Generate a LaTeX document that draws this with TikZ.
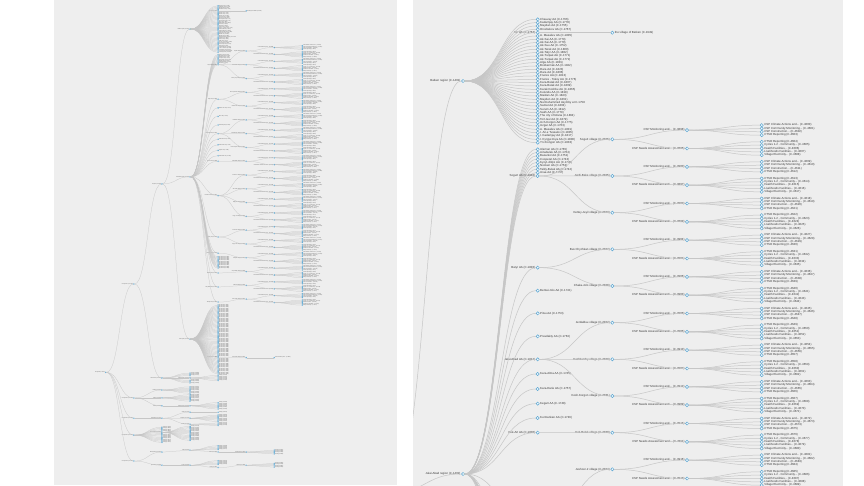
\documentclass[tikz,border=0pt]{standalone}
\usepackage{fontspec}
\setmainfont{Liberation Sans}
\usetikzlibrary{calc}

\definecolor{panelbg}{HTML}{EEEEEE}
\definecolor{linkgray}{HTML}{C6C6C6}
\definecolor{nodeblue}{HTML}{5AA6D2}
\definecolor{nodefill}{HTML}{F4F9FC}
\definecolor{txtgray}{HTML}{3A3A3A}

\tikzset{
tn/.style={circle, draw=nodeblue, fill=nodefill, line width=0.5pt, inner sep=0pt, minimum size=3.2pt},
lbl/.style={font=\fontsize{2.9}{3.4}\selectfont, text=txtgray, inner sep=0.5pt},
leaf/.style={tn, label={[lbl]0:{#1}}},
branch/.style={tn, label={[lbl]180:{#1}}},
link/.style={draw=linkgray, line width=0.5pt},
}

% horizontal tree link between two named nodes
\newcommand\lnk[2]{\draw[link] (#1) .. controls ($(#1)!0.5!(#1 -| #2)$) and ($(#2)!0.5!(#2 -| #1)$) .. (#2);}

% a run of leaves under one parent
\newcommand\leafgroup[6]{%
\foreach \j in {1,...,#6}{%
\pgfmathsetmacro\yy{#5+3.333*(\j-1)}%
\pgfmathtruncatemacro\cnum{5000+mod(#5*7+\j*13,900)}%
\node[leaf={Activity (C-\cnum)}] (#1#3\j) at (#4,\yy) {};
\lnk{#1#2}{#1#3\j}}}

% the whole tree, x = level, y = rows (pt); #1 = name prefix
\newcommand\treecontent[1]{%
% upper levels
\node[branch={All regions (C-1000)}] (#1root) at (0,994) {};
\node[branch={Component 1 (C-1101)}] (#1ca) at (1,759) {};
\node[branch={Component 2 (C-1102)}] (#1cb) at (1,1062) {};
\node[branch={Component 3 (C-1103)}] (#1cc) at (1,1116) {};
\node[branch={Component 4 (C-1104)}] (#1cd) at (1,1161) {};
\node[branch={Component 5 (C-1105)}] (#1ce) at (1,1230) {};
\node[branch={Regions (C-1300)}] (#1reg) at (2,493) {};
\node[branch={Other areas (C-1301)}] (#1oth) at (2,1009) {};
\node[branch={Batken region (C-1401)}] (#1bat) at (3,81) {};
\node[branch={Jalal-Abad region (C-1402)}] (#1jal) at (3,474) {};
\node[branch={Osh region (C-1403)}] (#1osh) at (3,905.5) {};
\foreach \nd in {ca,cb,cc,cd,ce} {\lnk{#1root}{#1\nd}}
\lnk{#1ca}{#1reg} \lnk{#1ca}{#1oth}
\foreach \nd in {bat,jal,osh} {\lnk{#1reg}{#1\nd}}
%
% Batken aiyl aimaks
\foreach \i/\nm in {0/{Chauvay AA (C-1766)},1/{Kadamjay AA (C-1778)},2/{Maydan AA (C-1755)},
3/{Orozbekov AA (C-1767)},5/{A. Masaliev AA (C-1805)},6/{Ak-Sai AA (C-1779)},7/{Ak-Sai AA (C-1770)},
8/{Ak-Suu AA (C-1752)},9/{Ak-Terek AA (C-1800)},10/{Ak-Tatyr AA (C-1802)},11/{Ak-Turpak AA (C-1771)},
12/{Ak-Turpak AA (C-1772)},13/{Alga AA (C-1801)},14/{Bozbarmak AA (C-1822)},15/{Dara AA (C-1823)},
16/{Dara AA (C-1806)},17/{Frunze AA (C-1813)},18/{Frunze - Tokoy AA (C-1776)},19/{Kara-Bulak AA (C-1807)},
20/{Kara-Bulak AA (C-1809)},21/{Karak Koshbu AA (C-1865)},22/{Kulundu AA (C-1818)},23/{Maidan AA (C-1843)},
24/{Mayden AA (C-1861)},25/{Nurmuhammed Asymby at C-1758},26/{Samat AA (C-1804)},27/{Surum AA (C-1812)},
28/{Sakh AA (C-1779)},29/{The city of Isfana (C-1864)},30/{Tort-Gul AA (C-1879)},31/{Uch-Korgon AA (C-1775)},
32/{Uzgar AA (C-1763)},33/{A. Masaliev AA (C-1801)},34/{I. Ail-e Tussalov (C-1805)},35/{I. Kadamjay AA (C-1817)},
36/{I. Kyrgyz-Kiya AA (C-1808)},37/{Yni Kongon AA (C-1833)}}
{\node[leaf=\nm] (#1ba\i) at (4,{19.33+3.333*\i}) {};}
\node[branch={Tor AA (C-1784)}] (#1ba4) at (4,32.67) {};
\node[leaf={the village of Batken (C-1949)}] (#1tv) at (5,32.67) {};
\foreach \i in {0,...,37} {\lnk{#1bat}{#1ba\i}}
\lnk{#1ba4}{#1tv}
%
% Jalal-Abad aiyl aimaks
\foreach \i/\nm in {0/{Uleman AA (C-1765)},1/{Ainabulak AA (C-1764)},2/{Bazarkol AA (C-1751)},
3/{Cooperat AA (C-1743)},4/{Kyzyl-Jildyz AA (C-1749)},5/{Nooken AA (C-1753)},
6/{Taldy-Bulak AA (C-1742)},7/{Uraa AA (C-1757)}}
{\node[leaf=\nm] (#1ja\i) at (4,{149.33+3.333*\i}) {};
\lnk{#1jal}{#1ja\i}}
\node[branch={Sogurt AA (C-1810)}] (#1sog) at (4,176) {};
\node[branch={Batyr AA (C-1803)}] (#1batyr) at (4,267.67) {};
\node[leaf={Bental-Jolo AA (C-1741)}] (#1bjo) at (4,290.67) {};
\node[leaf={Pitsu AA (C-1753)}] (#1pit) at (4,313.33) {};
\node[leaf={Pravdakty AA (C-1763)}] (#1prv) at (4,336.33) {};
\node[branch={Jalal-Abad AA (C-1812)}] (#1jaa) at (4,359.33) {};
\node[leaf={Kara-Alma AA (C-1745)}] (#1kal) at (4,374) {};
\node[leaf={Kara-Darie AA (C-1757)}] (#1kdr) at (4,389) {};
\node[leaf={Kegart AA (C-1748)}] (#1keg) at (4,403.67) {};
\node[leaf={Kurmankan AA (C-1746)}] (#1kur) at (4,418) {};
\node[branch={Kok-Art AA (C-1808)}] (#1kok) at (4,432.67) {};
\node[branch={Kochkor-Ata AA (C-1811)}] (#1ka) at (4,524) {};
\node[branch={Massy AA (C-1814)}] (#1kb) at (4,634) {};
\node[branch={Nazarov AA (C-1815)}] (#1kc) at (4,677) {};
\node[branch={Oktyabr AA (C-1816)}] (#1kd) at (4,730) {};
\node[branch={Sary-Bulak AA (C-1819)}] (#1ke) at (4,767) {};
\node[branch={Toktogul AA (C-1820)}] (#1kf) at (4,807) {};
\foreach \nd in {sog,batyr,bjo,pit,prv,jaa,kal,kdr,keg,kur,kok,ka,kb,kc,kd,ke,kf} {\lnk{#1jal}{#1\nd}}
\foreach \i in {0,...,9}{%
\pgfmathtruncatemacro\cnum{1830+\i}%
\node[leaf={Aiyl okmotu (C-\cnum)}] (#1jl\i) at (4,{686.67+3.333*\i}) {};
\lnk{#1jal}{#1jl\i}}
%
% villages, CSP steps and their reports
\foreach \vi/\nm/\vp in {0/{Sogurt village (C-2026)}/sog,1/{Jerdi-Bake village (C-2025)}/sog,
2/{Kettey-Jeyil village (C-2023)}/sog,3/{Bus Chychkan village (C-2027)}/batyr,
4/{Chaka-Jolo village (C-2028)}/batyr,5/{Jerdalduu village (C-2022)}/jaa,
6/{Kashkarchy village (C-2029)}/jaa,7/{Kosh-Korgon village (C-2031)}/jaa,
8/{Kok-Bulak village (C-2030)}/kok,9/{Jeshoor-2 village (C-2024)}/ka,
10/{Ak-Terek village (C-2032)}/ka,11/{Bakyyan village (C-2033)}/ka,12/{Jangy-Jol village (C-2034)}/ka,
13/{Kara-Suu village (C-2035)}/kb,14/{Kyzyl-Tuu village (C-2036)}/kb,15/{Oktyabr village (C-2037)}/kc,
16/{Sary-Bulak village (C-2038)}/kd,17/{Toktogul village (C-2039)}/ke,18/{Uch-Terek village (C-2040)}/kf}
{%
\pgfmathsetmacro\vy{139.33+36.667*\vi}%
\pgfmathtruncatemacro\cm{3898+2*\vi}%
\pgfmathtruncatemacro\cn{3895+2*\vi}%
\node[branch=\nm] (#1v\vi) at (5,\vy) {};
\node[branch={CSP Monitoring and... (C-\cm)}] (#1m\vi) at (6,{\vy-9.167}) {};
\node[branch={CSP Needs Assessment and... (C-\cn)}] (#1n\vi) at (6,{\vy+9.167}) {};
\lnk{#1\vp}{#1v\vi} \lnk{#1v\vi}{#1m\vi} \lnk{#1v\vi}{#1n\vi}
\foreach \k/\lt in {0/{CSP Climate Actions and...},1/{CSP Community Monitoring...},
2/{CSP Construction...},3/{CTSO Reporting}}{%
\pgfmathtruncatemacro\cnum{4600+9*\vi+\k}%
\node[leaf={\lt\ (C-\cnum)}] (#1ml\vi x\k) at (7,{\vy-14.167+3.333*\k}) {};
\lnk{#1m\vi}{#1ml\vi x\k}}
\foreach \k/\lt in {0/{CTSO Reporting},1/{Cycles 1-2 - Community...},2/{Health Facilities...},
3/{Livelihoods Facilities...},4/{Village Electricity...}}{%
\pgfmathtruncatemacro\cnum{4604+9*\vi+\k}%
\node[leaf={\lt\ (C-\cnum)}] (#1nl\vi x\k) at (7,{\vy+2.5+3.333*\k}) {};
\lnk{#1n\vi}{#1nl\vi x\k}}
}
%
% Osh aiyl aimaks
\foreach \i in {0,...,55}{%
\pgfmathtruncatemacro\cnum{1851+\i}%
\ifnum\i=42\relax
\node[branch={Nookat AA (C-\cnum)}] (#1os\i) at (4,{815+3.333*\i}) {};
\else
\node[leaf={Aiyl aimak (C-\cnum)}] (#1os\i) at (4,{815+3.333*\i}) {};
\fi
\lnk{#1osh}{#1os\i}}
\node[branch={Kara-Tash village (C-2050)}] (#1kt) at (5,955) {};
\node[leaf={CSP Monitoring and... (C-3990)}] (#1ktm) at (6,955) {};
\lnk{#1os42}{#1kt} \lnk{#1kt}{#1ktm}
%
% other areas
\node[branch={Pilot projects (C-1501)}] (#1c3) at (3,1009) {};
\lnk{#1oth}{#1c3}
\leafgroup{#1}{oth}{ob}{3}{996}{3}
\leafgroup{#1}{oth}{oc}{3}{1015.33}{3}
\leafgroup{#1}{c3}{od}{4}{1002.33}{5}
%
% component 2
\node[branch={Training (C-1601)}] (#1d1) at (2,1041) {};
\node[branch={Grants (C-1602)}] (#1d2) at (2,1062) {};
\node[branch={Works (C-1603)}] (#1d3) at (2,1083) {};
\node[branch={Works group (C-1604)}] (#1e3) at (3,1083) {};
\foreach \nd in {d1,d2,d3} {\lnk{#1cb}{#1\nd}}
\lnk{#1d3}{#1e3}
\leafgroup{#1}{d1}{pa}{3}{1032.67}{6}
\leafgroup{#1}{d2}{pb}{3}{1053.67}{6}
\leafgroup{#1}{e3}{pc}{4}{1074.67}{6}
%
% component 3
\node[branch={Monitoring (C-1701)}] (#1d4) at (2,1116) {};
\node[branch={Visits (C-1702)}] (#1e4) at (3,1100) {};
\node[branch={Reports (C-1703)}] (#1e5) at (3,1116) {};
\node[branch={Audits (C-1704)}] (#1e6) at (3,1132) {};
\lnk{#1cc}{#1d4}
\foreach \nd in {e4,e5,e6} {\lnk{#1d4}{#1\nd}}
\leafgroup{#1}{e4}{qa}{4}{1100}{1}
\leafgroup{#1}{e5}{qb}{4}{1107.67}{6}
\leafgroup{#1}{e6}{qc}{4}{1128.67}{3}
%
% component 4
\node[branch={Procurement (C-1801)}] (#1d5) at (2,1153.33) {};
\lnk{#1cd}{#1d5}
\leafgroup{#1}{cd}{ra}{2}{1140}{4}
\leafgroup{#1}{cd}{rb}{2}{1156.67}{8}
\leafgroup{#1}{d5}{rc}{3}{1138}{12}
%
% component 5
\node[branch={Management (C-1901)}] (#1d6) at (2,1206) {};
\node[branch={Staff (C-1902)}] (#1e7) at (3,1201) {};
\node[branch={Offices (C-1903)}] (#1f1) at (4,1206) {};
\node[branch={Equipment (C-1904)}] (#1g1) at (5,1206) {};
\node[branch={Operations (C-1905)}] (#1d7) at (2,1241) {};
\node[branch={Costs (C-1906)}] (#1e8) at (3,1241) {};
\node[branch={Travel (C-1907)}] (#1f2) at (4,1247) {};
\node[branch={Vehicles (C-1908)}] (#1g2) at (5,1241) {};
\lnk{#1ce}{#1d6} \lnk{#1d6}{#1e7} \lnk{#1e7}{#1f1} \lnk{#1f1}{#1g1}
\lnk{#1ce}{#1d7} \lnk{#1d7}{#1e8} \lnk{#1e8}{#1f2} \lnk{#1f2}{#1g2}
\leafgroup{#1}{e7}{sa}{4}{1189.33}{4}
\leafgroup{#1}{g1}{sb}{6}{1201}{4}
\leafgroup{#1}{e8}{ta}{4}{1229}{4}
\leafgroup{#1}{g2}{tb}{6}{1236}{4}
}

\begin{document}
\begin{tikzpicture}[x=1pt, y=1pt]
\useasboundingbox (0,0) rectangle (864,-486);
\fill[white] (0,0) rectangle (864,-486);

% panels
\fill[panelbg] (54,0) rectangle (397,-485);
\fill[panelbg] (413,0) rectangle (843,-486);

% overview of the whole tree
\begin{scope}
\clip (54,0) rectangle (397,-485);
\begin{scope}[x={(74.67pt,0pt)}, y={(0pt,-1pt)}, shift={(105.8pt,1.41pt)}, scale=0.376, transform shape,
tn/.append style={line width=0.25pt}, link/.append style={line width=0.25pt}]
\treecontent{L}
\end{scope}
\end{scope}

% zoomed view
\begin{scope}
\clip (413,0) rectangle (843,-486);
\begin{scope}[x={(74.67pt,0pt)}, y={(0pt,-1pt)}, xshift=239pt]
\treecontent{R}
\end{scope}
\end{scope}

\end{tikzpicture}
\end{document}
